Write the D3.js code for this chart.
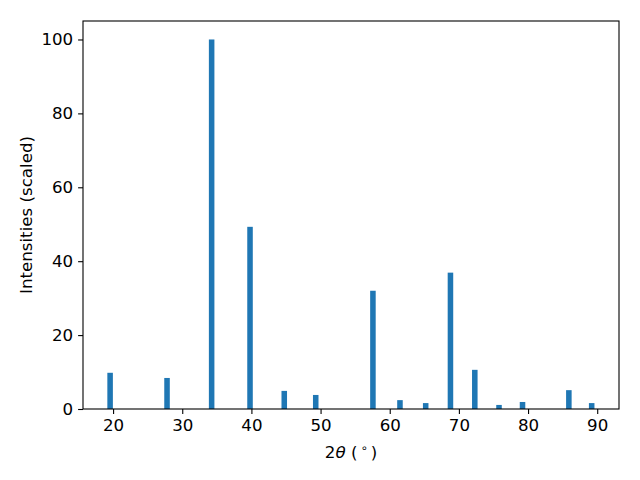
<!DOCTYPE html>
<html><head><meta charset="utf-8">
<script src="https://cdn.jsdelivr.net/npm/d3@7"></script>
<style>body{margin:0;background:#fff}svg{display:block}text{font-family:"DejaVu Sans",sans-serif}</style>
</head><body>
<script>
const positions = [19.57, 27.8, 34.25, 39.8, 44.75, 49.3, 57.57, 61.48, 65.2, 68.78, 72.3, 75.8, 79.2, 85.9, 89.2];
const intensities = [9.8, 8.4, 100, 49.3, 4.9, 3.8, 32.0, 2.4, 1.6, 36.9, 10.6, 1.1, 1.9, 5.1, 1.6];
const xTicks = [20, 30, 40, 50, 60, 70, 80, 90];
const yTicks = [0, 20, 40, 60, 80, 100];
const barWidth = 0.8;

const W = 640, H = 480;
const L = 83, R = 619, T = 21, B = 409;
const svg = d3.select("body").append("svg").attr("width", W).attr("height", H);
const x = d3.scaleLinear().domain([15.65, 93.15]).range([L, R]);
const y = d3.scaleLinear().domain([0, 105]).range([B, T]);
const fs = 16.67;

svg.append("g").selectAll("rect").data(positions).join("rect")
  .attr("x", (d) => x(d - barWidth / 2))
  .attr("width", (d) => x(d + barWidth / 2) - x(d - barWidth / 2))
  .attr("y", (d, i) => y(intensities[i]))
  .attr("height", (d, i) => y(0) - y(intensities[i]))
  .attr("fill", "#1f77b4");

const xa = svg.append("g").attr("transform", `translate(0,${B})`)
  .call(d3.axisBottom(x).tickValues(xTicks).tickSize(4.9).tickPadding(4.9).tickFormat(d3.format("d")));
const ya = svg.append("g").attr("transform", `translate(${L},0)`)
  .call(d3.axisLeft(y).tickValues(yTicks).tickSize(4.9).tickPadding(4.9).tickFormat(d3.format("d")));
[xa, ya].forEach(g => {
  g.select(".domain").remove();
  g.selectAll(".tick line").attr("stroke", "#000").attr("stroke-width", 1.1);
  g.selectAll(".tick text").attr("fill", "#000").style("font-size", fs + "px").style("font-family", "DejaVu Sans");
});

svg.append("rect").attr("x", L).attr("y", T).attr("width", R - L).attr("height", B - T)
  .attr("fill", "none").attr("stroke", "#000").attr("stroke-width", 1.1);

const xl = svg.append("text").attr("x", (L + R) / 2).attr("y", 458).attr("text-anchor", "middle")
  .style("font-size", fs + "px");
xl.append("tspan").text("2");
xl.append("tspan").attr("font-style", "italic").text("θ");
xl.append("tspan").text(" (");
xl.append("tspan").attr("dx", 3).attr("dy", -6).style("font-size", "11.5px").text("∘");
xl.append("tspan").attr("dx", 3).attr("dy", 6).text(")");

svg.append("text").attr("transform", `translate(32,${(T + B) / 2}) rotate(-90)`)
  .attr("text-anchor", "middle").style("font-size", fs + "px").text("Intensities (scaled)");
</script>
</body></html>
